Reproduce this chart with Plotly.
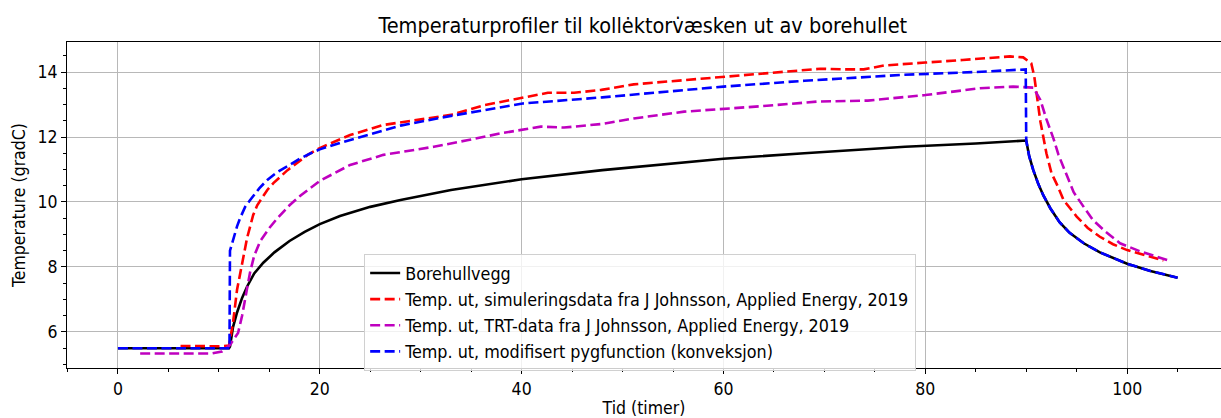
import plotly.graph_objects as go

# Borehole wall temperature
t_wall = [0, 5, 11.0, 11.1, 11.4, 11.8, 12.3, 12.8, 13.5, 14.4, 15.5, 17.0, 18.5, 20, 22, 25, 28, 33,
          40, 48, 55, 60, 68, 78, 85, 90.0, 90.3, 90.7, 91.2, 91.7, 92.4, 93.3, 94.3, 95.7,
          97.3, 100.0, 102.3, 105.0]
T_wall = [5.5, 5.5, 5.5, 5.55, 6.15, 6.6, 7.05, 7.4, 7.8, 8.13, 8.45, 8.8, 9.08, 9.32, 9.57, 9.85,
          10.06, 10.37, 10.7, 10.98, 11.18, 11.33, 11.5, 11.7, 11.8, 11.89, 11.4, 10.98, 10.55,
          10.2, 9.8, 9.38, 9.05, 8.73, 8.45, 8.1, 7.88, 7.67]

# Outlet temperature, simulation data (Johnsson 2019)
t_sim = [6.2, 8, 10, 11.0, 11.4, 11.8, 12.3, 12.8, 13.4, 13.8, 14.8, 15.4, 16.8, 18.1, 18.8, 20,
         23, 26.3, 29.7, 33, 36.3, 40.1, 42.6, 45.2, 47.9, 51.1, 56.1, 60.0, 64.3, 66.9, 69.6,
         71.9, 73.9, 75.9, 77.8, 80.0, 83.7, 85.8, 88.4, 89.7, 90.5, 90.8, 91.4, 92.0, 92.5,
         93.1, 93.7, 95.0, 96.1, 97.3, 98.6, 100.0, 101.8, 103.6]
T_sim = [5.57, 5.56, 5.56, 5.58, 6.28, 7.3, 8.12, 8.9, 9.6, 9.9, 10.37, 10.58, 10.98, 11.29,
         11.45, 11.66, 12.06, 12.37, 12.52, 12.68, 12.98, 13.22, 13.36, 13.36, 13.45, 13.62,
         13.75, 13.84, 13.96, 14.01, 14.1, 14.08, 14.08, 14.2, 14.25, 14.29, 14.37, 14.42,
         14.48, 14.45, 14.27, 13.86, 12.48, 11.5, 10.89, 10.5, 10.06, 9.55, 9.2, 8.93, 8.7,
         8.52, 8.35, 8.2]

# Outlet temperature, TRT measurements (Johnsson 2019)
t_trt = [2.2, 5, 9.3, 10.3, 11.1, 11.9, 12.3, 12.8, 13.1, 13.5, 14.1, 15.0, 15.8, 17.0, 18.1,
         20.0, 23, 26.3, 31.3, 34.6, 37.9, 41.9, 44.2, 47.9, 51.1, 56.1, 60.0, 64.3, 69.3,
         74.3, 77.6, 80.0, 85.4, 88.7, 90.7, 91.4, 92.0, 92.7, 93.2, 94.0, 94.7, 95.8, 96.6,
         97.8, 99.3, 101.3, 104.1]
T_trt = [5.34, 5.34, 5.34, 5.4, 5.6, 5.97, 6.5, 7.35, 7.85, 8.35, 8.8, 9.2, 9.5, 9.9, 10.2,
         10.65, 11.14, 11.45, 11.7, 11.9, 12.11, 12.32, 12.29, 12.4, 12.57, 12.78, 12.86, 12.96,
         13.09, 13.12, 13.22, 13.29, 13.5, 13.55, 13.52, 13.14, 12.55, 11.95, 11.45, 10.85,
         10.3, 9.8, 9.45, 9.1, 8.73, 8.48, 8.2]

# Outlet temperature, modified pygfunction (convection)
t_pyg = [0, 5, 11.05, 11.1, 11.4, 11.8, 12.1, 12.6, 13.1, 14.0, 14.8, 15.8, 16.8, 18.0, 19.1, 20,
         22, 24.7, 28, 33, 38, 40.1, 48, 51, 60, 68, 77.6, 85, 89.95, 90.0, 90.3, 90.7, 91.2,
         91.7, 92.4, 93.3, 94.3, 95.7, 97.3, 100.0, 102.3, 105.0]
T_pyg = [5.5, 5.5, 5.5, 8.5, 8.85, 9.25, 9.5, 9.85, 10.06, 10.42, 10.68, 10.92, 11.1, 11.33,
         11.5, 11.62, 11.82, 12.05, 12.35, 12.65, 12.93, 13.03, 13.22, 13.3, 13.55, 13.73, 13.91,
         14.0, 14.08, 11.89, 11.4, 10.98, 10.55, 10.2, 9.8, 9.38, 9.05, 8.73, 8.45, 8.1, 7.88,
         7.67]

names = [
    "Borehullvegg",
    "Temp. ut, simuleringsdata fra J Johnsson, Applied Energy, 2019",
    "Temp. ut, TRT-data fra J Johnsson, Applied Energy, 2019",
    "Temp. ut, modifisert pygfunction (konveksjon)",
]

dash = "10px,4.5px"
fig = go.Figure()
fig.add_trace(go.Scatter(x=t_wall, y=T_wall, mode="lines", name=names[0],
                         line=dict(color="black", width=2.6)))
fig.add_trace(go.Scatter(x=t_sim, y=T_sim, mode="lines", name=names[1],
                         line=dict(color="red", width=2.6, dash=dash)))
fig.add_trace(go.Scatter(x=t_trt, y=T_trt, mode="lines", name=names[2],
                         line=dict(color="#bf00bf", width=2.6, dash=dash)))
fig.add_trace(go.Scatter(x=t_pyg, y=T_pyg, mode="lines", name=names[3],
                         line=dict(color="blue", width=2.6, dash=dash)))

font = "DejaVu Sans Condensed, DejaVu Sans, sans-serif"
fig.update_layout(
    width=1221, height=418,
    margin=dict(l=67, r=0, t=42, b=50),
    paper_bgcolor="white", plot_bgcolor="white",
    font=dict(family=font, size=17.5, color="black"),
    title=dict(text="Temperaturprofiler til kolle\u0307ktorv\u0307æsken ut av borehullet",
               x=0.499, xref="paper", xanchor="center", y=0.94, yref="container",
               yanchor="middle", font=dict(size=21.5)),
    showlegend=True,
    legend=dict(x=0.2575, y=0.35, xanchor="left", yanchor="top",
                bgcolor="rgba(255,255,255,0.8)", bordercolor="#d0d0d0", borderwidth=1,
                font=dict(size=17.8), itemwidth=30),
)
fig.update_xaxes(
    range=[-5.05, 109.3], tickvals=[0, 20, 40, 60, 80, 100],
    ticks="outside", ticklen=5, tickwidth=1.1, tickcolor="black",
    tickfont=dict(size=17.5),
    minor=dict(dtick=5, tick0=0, ticks="outside", ticklen=3, tickwidth=0.9, tickcolor="black",
               showgrid=False),
    showgrid=True, gridcolor="#b8b8b8", gridwidth=1.2,
    showline=True, linecolor="black", linewidth=1.1, mirror=True,
    zeroline=False,
    title=dict(text="Tid (timer)", standoff=6, font=dict(size=17.5)),
)
fig.update_yaxes(
    range=[4.892, 14.923], tickvals=[6, 8, 10, 12, 14],
    ticks="outside", ticklen=5, tickwidth=1.1, tickcolor="black",
    tickfont=dict(size=17.5),
    minor=dict(dtick=0.5, tick0=0, ticks="outside", ticklen=3, tickwidth=0.9, tickcolor="black",
               showgrid=False),
    showgrid=True, gridcolor="#b8b8b8", gridwidth=1.2,
    showline=True, linecolor="black", linewidth=1.1, mirror=False,
    zeroline=False,
    title=dict(text="Temperature (gradC)", standoff=7, font=dict(size=17.5)),
)

fig.write_html("out.html")
